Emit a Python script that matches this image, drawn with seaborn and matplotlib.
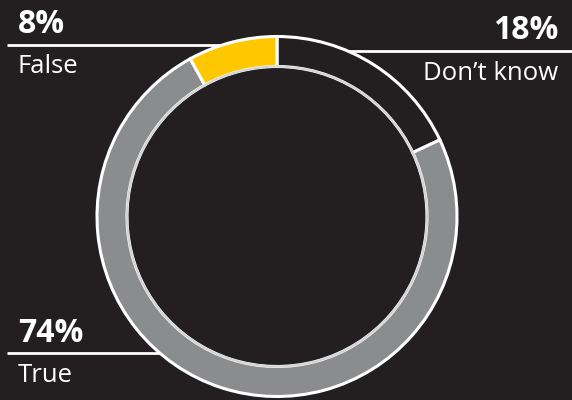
import matplotlib
matplotlib.use("Agg")
import matplotlib.pyplot as plt
from matplotlib.patches import Circle
import seaborn as sns

# Survey answers, clockwise from the top
categories = ["Don\u2019t know", "True", "False"]
shares = [18, 74, 8]
colors = ["#231f20", "#8b8c8d", "#ffc700"]

BG = "#231f20"

sns.set_theme(style="dark", rc={"axes.facecolor": BG, "figure.facecolor": BG})
plt.rcParams["font.family"] = ["Open Sans", "DejaVu Sans"]

W, H = 572, 400
fig = plt.figure(figsize=(W / 100, H / 100), dpi=100)
ax = fig.add_axes([0, 0, 1, 1])
ax.set_facecolor(BG)

cx, cy, R, ring = 277, H - 216.5, 180, 30

ax.pie(shares, colors=colors, startangle=90, counterclock=False,
       center=(cx, cy), radius=R,
       wedgeprops=dict(width=ring, edgecolor="white", linewidth=2.2))
ax.add_patch(Circle((cx, cy), R - ring, fill=False, edgecolor="#d4d4d4",
                    linewidth=1.6, zorder=5))

ax.set_xlim(0, W)
ax.set_ylim(0, H)
ax.set_aspect("equal")
ax.axis("off")

# Callouts: value above a rule, category name below it
callouts = {
    "False": dict(x=18, ha="left", val_y=33, name_y=73, rule=(7, 222, 45)),
    "Don\u2019t know": dict(x=558, ha="right", val_y=39, name_y=80, rule=(348, 572, 51)),
    "True": dict(x=18, ha="left", val_y=342, name_y=382, rule=(7, 160, 353)),
}

for cat, val in zip(categories, shares):
    c = callouts[cat]
    x0, x1, ry = c["rule"]
    ax.plot([x0, x1], [H - ry, H - ry], color="white", lw=2, zorder=6,
            solid_capstyle="butt")
    ax.text(c["x"], H - c["val_y"], f"{val}%", ha=c["ha"], va="baseline",
            color="white", fontsize=23, fontweight="bold", zorder=7)
    ax.text(c["x"], H - c["name_y"], cat, ha=c["ha"], va="baseline",
            color="white", fontsize=18.5, zorder=7)

fig.savefig("out.png", dpi=100, facecolor=BG)
